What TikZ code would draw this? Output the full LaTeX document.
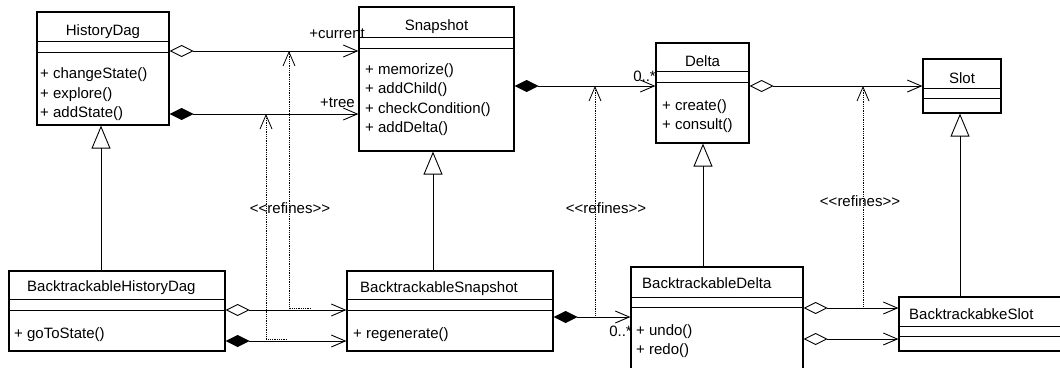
\documentclass[tikz,border=0pt]{standalone}
\usepackage{fontspec}
\setmainfont{Liberation Sans}
\usetikzlibrary{arrows.meta}

\begin{document}
\begin{tikzpicture}[x=1pt,y=-1pt]
\tikzset{
  classbox/.style={draw,line width=1.2pt,inner sep=0pt},
  compartment/.style={line width=0.9pt},
  classname/.style={inner sep=0pt,font=\fontsize{15}{18}\selectfont},
  member/.style={anchor=mid west,inner sep=0pt,font=\fontsize{15}{18}\selectfont},
  rolelabel/.style={anchor=mid east,inner sep=0pt,font=\fontsize{15}{18}\selectfont},
  stereo/.style={inner sep=0pt,font=\fontsize{15}{18}\selectfont},
  aggr/.style={{Diamond[open,length=24pt,width=12pt]}-{Straight Barb[length=14pt,width=12pt]},line width=0.9pt},
  comp/.style={{Diamond[length=24pt,width=12pt]}-{Straight Barb[length=14pt,width=12pt]},line width=0.9pt},
  generalize/.style={-{Triangle[open,length=23pt,width=19pt]},line width=0.9pt},
  refines/.style={densely dotted,line width=0.8pt,-{Straight Barb[length=14pt,width=12pt]}}
}
\useasboundingbox (0,0) rectangle (1060,367);
\clip (0,0) rectangle (1060,367);

% upper classes
\node[classbox,minimum width=132pt,minimum height=113pt] (hd) at (103,68.5) {};
\draw[compartment] (hd.west |- 0,41) -- (hd.east |- 0,41);
\draw[compartment] (hd.west |- 0,52) -- (hd.east |- 0,52);
\node[classname] (hd-name) at (103,32) {HistoryDag};
\node[member] (hd-m1) at (40,76) {+ changeState()};
\node[member] (hd-m2) at (40,96) {+ explore()};
\node[member] (hd-m3) at (40,115) {+ addState()};

\node[classbox,minimum width=155pt,minimum height=144pt] (snap) at (436.5,79) {};
\draw[compartment] (snap.west |- 0,37) -- (snap.east |- 0,37);
\draw[compartment] (snap.west |- 0,48) -- (snap.east |- 0,48);
\node[classname] (snap-name) at (436.5,27) {Snapshot};
\node[member] (snap-m1) at (365,71.5) {+ memorize()};
\node[member] (snap-m2) at (365,91) {+ addChild()};
\node[member] (snap-m3) at (365,111) {+ checkCondition()};
\node[member] (snap-m4) at (365,130) {+ addDelta()};

\node[classbox,minimum width=93pt,minimum height=100pt] (delta) at (702.5,93) {};
\draw[compartment] (delta.west |- 0,71) -- (delta.east |- 0,71);
\draw[compartment] (delta.west |- 0,82) -- (delta.east |- 0,82);
\node[classname] (delta-name) at (702.5,61) {Delta};
\node[member] (delta-m1) at (662,108) {+ create()};
\node[member] (delta-m2) at (662,127) {+ consult()};

\node[classbox,minimum width=78pt,minimum height=54pt] (slot) at (962,86) {};
\draw[compartment] (slot.west |- 0,88) -- (slot.east |- 0,88);
\draw[compartment] (slot.west |- 0,98) -- (slot.east |- 0,98);
\node[classname] (slot-name) at (962,78) {Slot};

% lower classes
\node[classbox,minimum width=216pt,minimum height=80pt] (bhd) at (117,311) {};
\draw[compartment] (bhd.west |- 0,299) -- (bhd.east |- 0,299);
\draw[compartment] (bhd.west |- 0,310) -- (bhd.east |- 0,310);
\node[classname,anchor=mid west] (bhd-name) at (27,289) {BacktrackableHistoryDag};
\node[member] (bhd-m1) at (14,336) {+ goToState()};

\node[classbox,minimum width=206pt,minimum height=80pt] (bs) at (450,311) {};
\draw[compartment] (bs.west |- 0,299) -- (bs.east |- 0,299);
\draw[compartment] (bs.west |- 0,310) -- (bs.east |- 0,310);
\node[classname,anchor=mid west] (bs-name) at (360,290) {BacktrackableSnapshot};
\node[member] (bs-m1) at (353,336) {+ regenerate()};

\node[classbox,minimum width=172pt,minimum height=113pt] (bd) at (717,323.5) {};
\draw[compartment] (bd.west |- 0,297) -- (bd.east |- 0,297);
\draw[compartment] (bd.west |- 0,307) -- (bd.east |- 0,307);
\node[classname,anchor=mid west] (bd-name) at (642,286) {BacktrackableDelta};
\node[member] (bd-m1) at (636,333) {+ undo()};
\node[member] (bd-m2) at (636,352) {+ redo()};

\node[classbox,minimum width=191pt,minimum height=54pt] (bslot) at (994.5,324) {};
\draw[compartment] (bslot.west |- 0,326) -- (bslot.east |- 0,326);
\draw[compartment] (bslot.west |- 0,336) -- (bslot.east |- 0,336);
\node[classname,anchor=mid west] (bslot-name) at (909,317) {BacktrackabkeSlot};

% associations
\draw[aggr] (hd.east |- 0,51) -- (snap.west |- 0,51);
\draw[comp] (hd.east |- 0,114) -- (snap.west |- 0,114);
\draw[comp] (snap.east |- 0,86) -- (delta.west |- 0,86);
\draw[aggr] (delta.east |- 0,86) -- (slot.west |- 0,86);
\draw[aggr] (bhd.east |- 0,310) -- (bs.west |- 0,310);
\draw[comp] (bhd.east |- 0,341) -- (bs.west |- 0,341);
\draw[comp] (bs.east |- 0,317) -- (bd.west |- 0,317);
\draw[aggr] (bd.east |- 0,308) -- (bslot.west |- 0,308);
\draw[aggr] (bd.east |- 0,339) -- (bslot.west |- 0,339);
\node[rolelabel] (lbl-current) at (365,36) {+current};
\node[rolelabel] (lbl-tree) at (355,105) {+tree};
\node[rolelabel] (lbl-delta) at (656,79) {0..*};
\node[rolelabel] (lbl-bdelta) at (632,334) {0..*};

% inheritance
\draw[generalize] (bhd.north -| 101,0) -- (hd.south -| 101,0);
\draw[generalize] (bs.north -| 433,0) -- (snap.south -| 433,0);
\draw[generalize] (bd.north -| 703,0) -- (delta.south -| 703,0);
\draw[generalize] (bslot.north -| 960,0) -- (slot.south -| 960,0);

% refinements
\coordinate (ref1-from) at (311,308);
\coordinate (ref1-to) at (289,51);
\coordinate (ref2-from) at (287,339);
\coordinate (ref2-to) at (266,114);
\coordinate (ref3-from) at (591,317);
\coordinate (ref3-to) at (595,86);
\coordinate (ref4-from) at (850,308);
\coordinate (ref4-to) at (863,86);
\draw[refines] (ref1-from) -| (ref1-to);
\draw[refines] (ref2-from) -| (ref2-to);
\draw[refines] (ref3-from) -| (ref3-to);
\draw[refines] (ref4-from) -| (ref4-to);
\node[stereo] (ref12-name) at (290,208) {<\kern0pt<refines>\kern0pt>};
\node[stereo] (ref3-name) at (606,208) {<\kern0pt<refines>\kern0pt>};
\node[stereo] (ref4-name) at (860,201) {<\kern0pt<refines>\kern0pt>};
\end{tikzpicture}
\end{document}
